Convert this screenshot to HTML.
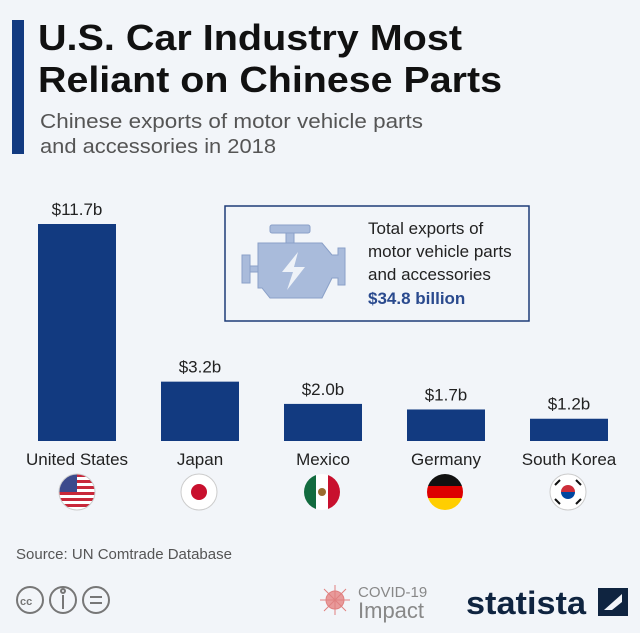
<!DOCTYPE html>
<html><head><meta charset="utf-8"><style>
body{margin:0;width:640px;height:628px;background:#f2f5f9;font-family:"Liberation Sans",sans-serif;overflow:hidden}
</style></head><body>
<svg width="640" height="628" xmlns="http://www.w3.org/2000/svg">
<rect x="0" y="0" width="640" height="628" fill="#f2f5f9"/>
<rect x="12" y="20" width="12" height="134" fill="#123a80"/>
<text x="38" y="50" font-size="36" font-weight="bold" fill="#111" textLength="424" lengthAdjust="spacingAndGlyphs">U.S. Car Industry Most</text>
<text x="38" y="92" font-size="36" font-weight="bold" fill="#111" textLength="464" lengthAdjust="spacingAndGlyphs">Reliant on Chinese Parts</text>
<text x="40" y="128" font-size="20" fill="#555" textLength="383" lengthAdjust="spacingAndGlyphs">Chinese exports of motor vehicle parts</text>
<text x="40" y="153" font-size="20" fill="#555" textLength="236" lengthAdjust="spacingAndGlyphs">and accessories in 2018</text>
<g>
<rect x="225" y="206" width="304" height="115" fill="none" stroke="#1e3c78" stroke-width="1.5"/>
<g fill="#a9bbdb" stroke="#8aa0c8" stroke-width="1">
<rect x="270" y="225" width="40" height="8" rx="2"/>
<rect x="286" y="233" width="8" height="10"/>
<path d="M258 243 H322 L332 255 H338 V248 H345 V285 H338 V278 H332 L322 298 H270 L262 288 H258 Z"/>
<rect x="242" y="255" width="8" height="28"/>
<rect x="250" y="266" width="8" height="6"/>
<path d="M298 252 L282 272 H293 L287 290 L305 267 H294 Z" fill="#eef2f8" stroke="none"/>
</g>
<text x="368" y="234" font-size="17" fill="#222">Total exports of</text>
<text x="368" y="257" font-size="17" fill="#222">motor vehicle parts</text>
<text x="368" y="280" font-size="17" fill="#222">and accessories</text>
<text x="368" y="304" font-size="17" font-weight="bold" fill="#2a4a8e">$34.8 billion</text>
</g>
<g id="bars"></g>
<g>
<g transform="translate(77,492)">
<clipPath id="c1"><circle r="18"/></clipPath>
<g clip-path="url(#c1)"><rect x="-18" y="-18" width="36" height="36" fill="#fff"/>
<rect x="-18" y="-18" width="36" height="3" fill="#c8283a"/><rect x="-18" y="-12" width="36" height="3" fill="#c8283a"/><rect x="-18" y="-6" width="36" height="3" fill="#c8283a"/><rect x="-18" y="0" width="36" height="3" fill="#c8283a"/><rect x="-18" y="6" width="36" height="3" fill="#c8283a"/><rect x="-18" y="12" width="36" height="3" fill="#c8283a"/>
<rect x="-18" y="-18" width="18" height="18" fill="#3c4a8c"/></g>
<circle r="18" fill="none" stroke="#ccc"/></g>
<g transform="translate(199,492)"><circle r="18" fill="#fff" stroke="#ccc"/><circle r="8" fill="#c8102e"/></g>
<g transform="translate(322,492)">
<clipPath id="c3"><circle r="18"/></clipPath>
<g clip-path="url(#c3)"><rect x="-18" y="-18" width="12" height="36" fill="#126b3f"/><rect x="-6" y="-18" width="12" height="36" fill="#fff"/><rect x="6" y="-18" width="12" height="36" fill="#c8102e"/><circle r="4" fill="#9a6b2f"/></g></g>
<g transform="translate(445,492)">
<clipPath id="c4"><circle r="18"/></clipPath>
<g clip-path="url(#c4)"><rect x="-18" y="-18" width="36" height="12" fill="#111"/><rect x="-18" y="-6" width="36" height="12" fill="#dd0000"/><rect x="-18" y="6" width="36" height="12" fill="#ffce00"/></g></g>
<g transform="translate(568,492)"><circle r="18" fill="#fff" stroke="#ccc"/><path d="M-7 0 A7 7 0 0 1 7 0 Z" fill="#cd2e3a"/><path d="M-7 0 A7 7 0 0 0 7 0 Z" fill="#0047a0"/>
<g stroke="#111" stroke-width="2"><line x1="-13" y1="-7" x2="-8" y2="-12"/><line x1="8" y1="12" x2="13" y2="7"/><line x1="8" y1="-12" x2="13" y2="-7"/><line x1="-13" y1="7" x2="-8" y2="12"/></g></g>
</g>
<text x="16" y="559" font-size="15" fill="#555">Source: UN Comtrade Database</text>
<g fill="none" stroke="#777" stroke-width="2">
<circle cx="30" cy="600" r="13"/><circle cx="63" cy="600" r="13"/><circle cx="96" cy="600" r="13"/>
<line x1="90" y1="597" x2="102" y2="597"/><line x1="90" y1="603" x2="102" y2="603"/>
<line x1="63" y1="595" x2="63" y2="609"/><circle cx="63" cy="591" r="2"/>
</g>
<text x="20" y="605" font-size="11" font-weight="bold" fill="#777">cc</text>
<g fill="#e89a9a" stroke="#e08080">
<circle cx="335" cy="600" r="9"/><line x1="335" y1="585" x2="335" y2="615"/><line x1="320" y1="600" x2="350" y2="600"/><line x1="324" y1="589" x2="346" y2="611"/><line x1="346" y1="589" x2="324" y2="611"/>
</g>
<text x="358" y="597" font-size="15" fill="#888">COVID-19</text>
<text x="358" y="618" font-size="22" fill="#888">Impact</text>
<text x="466" y="614" font-size="32" font-weight="bold" fill="#0f2440" textLength="120" lengthAdjust="spacingAndGlyphs">statista</text>
<g><rect x="598" y="588" width="30" height="28" fill="#0f2440"/><path d="M604 610 L622 594 L622 602 L612 610 Z" fill="#f2f5f9"/></g>
</svg>
<script>
var categories=["United States","Japan","Mexico","Germany","South Korea"];
var values=[11.7,3.2,2.0,1.7,1.2];
var valueLabels=["$11.7b","$3.2b","$2.0b","$1.7b","$1.2b"];
var g=document.getElementById('bars');
var NS="http://www.w3.org/2000/svg";
var base=441,scale=217/11.7;
function yPos(v){return base-v*scale;}
function xPos(i){return 38+i*123;}
for(var i=0;i<categories.length;i++){
 var r=document.createElementNS(NS,'rect');
 r.setAttribute('x',xPos(i));r.setAttribute('y',yPos(values[i]));
 r.setAttribute('width',78);r.setAttribute('height',base-yPos(values[i]));
 r.setAttribute('fill','#123a80');
 
 
 g.appendChild(r);
 var t=document.createElementNS(NS,'text');
 t.setAttribute('x',xPos(i)+39);t.setAttribute('y',yPos(values[i])-9);
 t.setAttribute('text-anchor','middle');t.setAttribute('font-size','17');t.setAttribute('fill','#222');
 t.textContent=valueLabels[i];
 
 
 g.appendChild(t);
 var c=document.createElementNS(NS,'text');
 c.setAttribute('x',xPos(i)+39);c.setAttribute('y',465);
 c.setAttribute('text-anchor','middle');c.setAttribute('font-size','17');c.setAttribute('fill','#222');
 c.textContent=categories[i];
 
 
 g.appendChild(c);
}
</script>
</body></html>
